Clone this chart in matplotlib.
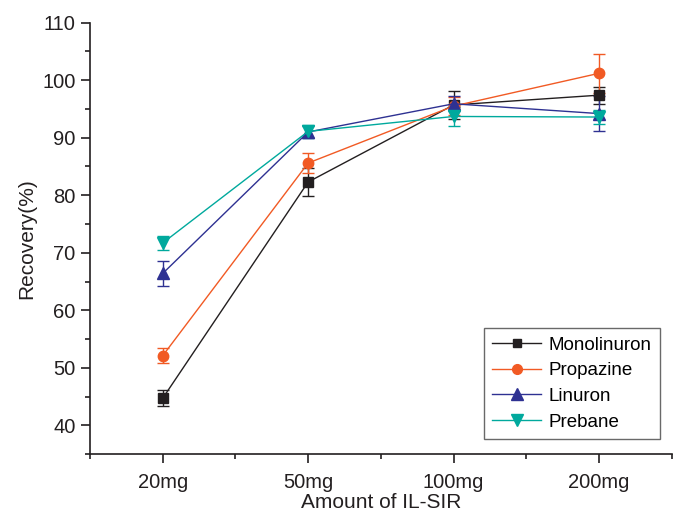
import matplotlib

matplotlib.use('Agg')
import matplotlib.pyplot as plt
import matplotlib.ticker as ticker
from matplotlib.lines import Line2D

plt.rcParams['font.family'] = ['Liberation Sans', 'DejaVu Sans']

categories = ['20mg', '50mg', '100mg', '200mg']
xlabel_name = 'Amount of IL-SIR'
ylabel_name = 'Recovery(%)'

line_name_set = ['Monolinuron', 'Propazine', 'Linuron', 'Prebane']
monolinuron = [44.7, 82.3, 95.7, 97.4]
monolinuron_err = [1.4, 2.5, 2.5, 1.5]
propazine = [52.1, 85.6, 95.5, 101.2]
propazine_err = [1.3, 1.8, 1.5, 3.4]
linuron = [66.4, 91.0, 95.9, 94.2]
linuron_err = [2.2, 1.0, 1.3, 3.0]
prebane = [71.7, 91.1, 93.7, 93.6]
prebane_err = [1.3, 1.2, 1.6, 1.2]

data_set = [monolinuron, propazine, linuron, prebane]
err_set = [monolinuron_err, propazine_err, linuron_err, prebane_err]

colorList = ['#231f20', '#f15a24', '#2e3192', '#00a99d']
markerList = ['s', 'o', '^', 'v']
markerSizes = [6.5, 7.5, 8.5, 8.5]

fig = plt.figure(figsize=(6.78, 5.16), dpi=100)
ax = fig.add_axes([0.1327, 0.120, 0.858, 0.836])

index = list(range(len(categories)))
handles = []
for i in range(len(line_name_set)):
    ax.errorbar(index, data_set[i], yerr=err_set[i], color=colorList[i],
                linewidth=1.0, elinewidth=1.0, capsize=4, capthick=1.0,
                marker=markerList[i], markersize=markerSizes[i],
                markeredgecolor=colorList[i], markerfacecolor=colorList[i])
    handles.append(Line2D([], [], color=colorList[i], linewidth=1.0,
                          marker=markerList[i], markersize=markerSizes[i] - 0.5,
                          markeredgecolor=colorList[i],
                          markerfacecolor=colorList[i], label=line_name_set[i]))

ax.set_xlim(-0.5, 3.5)
ax.set_ylim(35, 110)

ax.set_xticks(index)
ax.set_xticklabels(categories)
ax.xaxis.set_minor_locator(ticker.FixedLocator([-0.5, 0.5, 1.5, 2.5, 3.5]))
ax.yaxis.set_major_locator(ticker.MultipleLocator(10))
ax.yaxis.set_minor_locator(ticker.MultipleLocator(5))
ax.set_yticks(range(40, 111, 10))

ax.spines['right'].set_visible(False)
ax.spines['top'].set_visible(False)
ax.spines['bottom'].set_linewidth(1.2)
ax.spines['left'].set_linewidth(1.2)
ax.spines['bottom'].set_color('#231f20')
ax.spines['left'].set_color('#231f20')

ax.tick_params(which='major', direction='out', length=6.5, width=1.2,
               labelsize=14.5, colors='#231f20', pad=4)
ax.tick_params(which='minor', direction='out', length=3.5, width=1.2,
               colors='#231f20')
ax.tick_params(axis='x', which='major', pad=7)

ax.set_xlabel(xlabel_name, fontsize=15, color='#231f20', labelpad=1)
ax.set_ylabel(ylabel_name, fontsize=15, color='#231f20', labelpad=4)

legend = ax.legend(handles=handles, loc='lower right',
                   bbox_to_anchor=(0.98, 0.035),
                   fontsize=13.5, fancybox=False, edgecolor='#444444',
                   handlelength=2.6, borderpad=0.45, labelspacing=0.45,
                   handletextpad=0.4, borderaxespad=0)
legend.get_frame().set_linewidth(1.0)

plt.savefig('out.png', dpi=100)
plt.close('all')
